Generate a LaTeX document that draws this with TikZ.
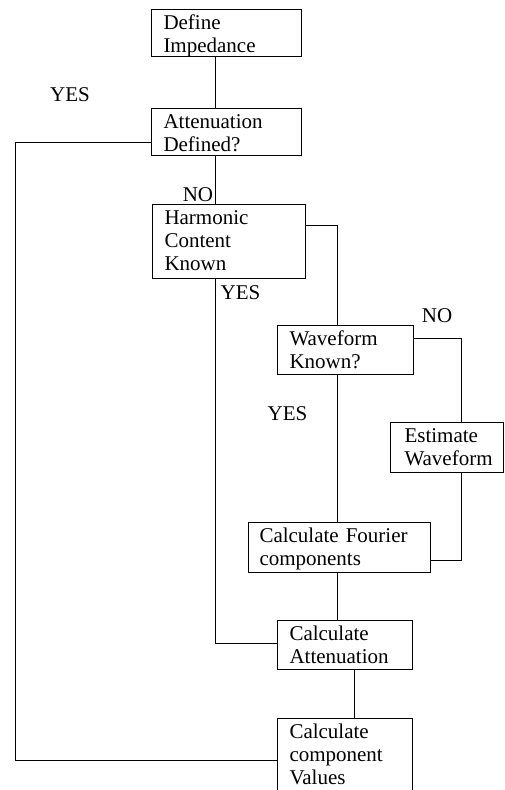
\documentclass[tikz,border=0pt]{standalone}
\usepackage{fontspec}
\setmainfont{Liberation Serif}
\begin{document}
\begin{tikzpicture}[x=1pt,y=-1pt,
  bodyfont/.style={font=\fontsize{21}{23}\selectfont},
  box/.style={draw, line width=1pt, anchor=north west, inner xsep=12pt, inner ysep=0pt,
    align=left, bodyfont, text height=20pt},
  lbl/.style={anchor=base, inner sep=0pt, bodyfont},
  conn/.style={line width=1pt, line join=miter}]
\useasboundingbox (0,0) rectangle (504,790);
\clip (0,0) rectangle (504,790);

\node[box, text width=126pt, text depth=27pt] (def) at (151,9) {Define\\Impedance};
\node[box, text width=126pt, text depth=27pt] (att) at (151,108) {Attenuation\\Defined?};
\node[box, text width=129pt, text depth=54pt] (harm) at (152,204) {Harmonic\\Content\\Known};
\node[box, text width=112pt, text depth=29pt] (wave) at (277,325) {Waveform\\Known?};
\node[box, inner xsep=14pt, text width=85pt, text depth=30pt] (est) at (390,422) {Estimate\\Waveform};
\node[box, inner xsep=11pt, text width=160pt, text depth=30pt] (four) at (248,522) {Calculate Fourier\\components};
\node[box, text width=111pt, text depth=29pt] (calcatt) at (277,620) {Calculate\\Attenuation};
\node[box, text width=111pt, text depth=54pt] (calcval) at (277,718) {Calculate\\component\\Values};

\coordinate (lft) at (15,400);
\coordinate (attout) at ([yshift=-10.5pt]att.west);
\coordinate (valin) at ([yshift=-5pt]calcval.west);

\node[lbl] (yes1) at (70,101) {YES};
\node[lbl] (no1) at (198,201) {NO};
\node[lbl] (yes2) at (240.5,299) {YES};
\node[lbl] (no2) at (437,322) {NO};
\node[lbl] (yes3) at (287.5,420) {YES};

% connectors
\draw[conn] ([xshift=64pt]def.south west) -- ([xshift=64pt]att.north west);
\draw[conn] ([xshift=64pt]att.south west) -- ([xshift=63pt]harm.north west);
\draw[conn] (attout) -- (attout -| lft) -- (valin -| lft) -- (valin);
\draw[conn] ([yshift=16pt]harm.east) -| ([xshift=60pt]wave.north west);
\draw[conn] ([yshift=11.5pt]wave.east) -| ([xshift=71pt]est.north west);
\draw[conn] ([xshift=60pt]wave.south west) -- ([xshift=89pt]four.north west);
\draw[conn] ([xshift=71pt]est.south west) |- ([yshift=-13pt]four.east);
\draw[conn] ([xshift=89pt]four.south west) -- ([xshift=60pt]calcatt.north west);
\draw[conn] ([xshift=63pt]harm.south west) |- ([yshift=1.5pt]calcatt.west);
\draw[conn] ([xshift=77pt]calcatt.south west) -- ([xshift=77pt]calcval.north west);
\end{tikzpicture}
\end{document}
